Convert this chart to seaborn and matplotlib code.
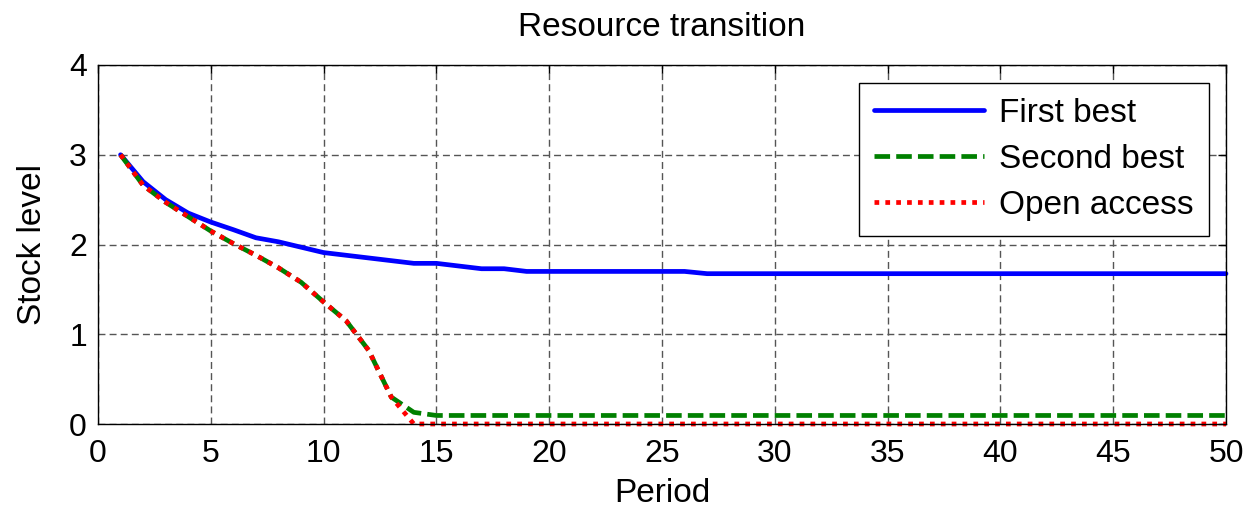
import numpy as np
import pandas as pd
import matplotlib
matplotlib.use("Agg")
import matplotlib.pyplot as plt
import seaborn as sns

periods = list(range(1, 51))
first_best = [3.00, 2.70, 2.50, 2.35, 2.25, 2.165, 2.075, 2.03, 1.97, 1.91,
              1.88, 1.85, 1.82, 1.79, 1.79, 1.76, 1.73, 1.73, 1.70, 1.70,
              1.70, 1.70, 1.70, 1.70, 1.70, 1.70] + [1.675] * 24
second_best = [3.00, 2.66, 2.47, 2.31, 2.15, 2.01, 1.88, 1.74, 1.58, 1.36,
               1.15, 0.82, 0.30, 0.13] + [0.095] * 36
open_access = [3.00, 2.66, 2.47, 2.31, 2.15, 2.01, 1.88, 1.74, 1.58, 1.36,
               1.15, 0.82, 0.30, 0.0] + [0.0] * 36

title = "Resource transition"
xlabel = "Period"
ylabel = "Stock level"
labels = ["First best", "Second best", "Open access"]

sns.set_style("white")
plt.rcParams['font.family'] = ['Liberation Sans', 'DejaVu Sans']
plt.rcParams['text.color'] = 'black'
plt.rcParams['axes.labelcolor'] = 'black'

fig = plt.figure(figsize=(12.53, 5.09), dpi=100)
ax = fig.add_axes([98/1253, 1 - 424/509, (1226-98)/1253, (424-65)/509])

fs = 24
lw = 3.4
sns.lineplot(x=periods, y=first_best, ax=ax, color="#0000ff", linewidth=lw,
             label=labels[0])
sns.lineplot(x=periods, y=second_best, ax=ax, color="#008000", linewidth=lw,
             label=labels[1])
ax.lines[-1].set_dashes((3.3, 1.3))
sns.lineplot(x=periods, y=open_access, ax=ax, color="#ff0000", linewidth=lw,
             label=labels[2])
ax.lines[-1].set_dashes((1, 1.3))
for ln in ax.lines:
    ln.set_clip_on(False)

ax.set_xlim(0, 50)
ax.set_ylim(0, 4)
ax.set_xticks(range(0, 51, 5))
ax.set_yticks(range(0, 5))
ax.grid(True, color="#555555", linestyle=(0, (5, 3)), linewidth=1)
ax.tick_params(direction="in", length=6, width=1, labelsize=23, top=True,
               right=True, colors="black")
ax.tick_params(axis="x", pad=11)
ax.tick_params(axis="y", pad=8)
for s in ax.spines.values():
    s.set_color("black")
    s.set_linewidth(1)
ax.set_title(title, fontsize=fs, pad=21, color="black")
ax.set_xlabel(xlabel, fontsize=fs, labelpad=6)
ax.set_ylabel(ylabel, fontsize=fs, labelpad=15)

leg = ax.legend(loc="upper right", bbox_to_anchor=(0.985, 0.95), fontsize=fs,
                frameon=True, fancybox=False, handlelength=3.3,
                borderpad=0.45, labelspacing=0.45, handletextpad=0.45,
                borderaxespad=0)
leg.get_frame().set_edgecolor("black")
leg.get_frame().set_linewidth(1)
leg.get_frame().set_alpha(1)

fig.savefig("out.png", dpi=100)
